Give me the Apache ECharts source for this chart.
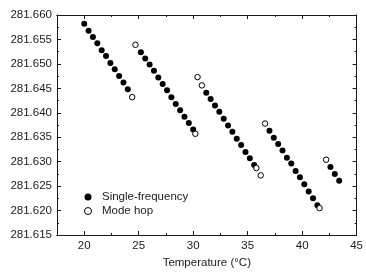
<!DOCTYPE html>
<html>
<head>
<meta charset="utf-8">
<script src="https://cdn.jsdelivr.net/npm/echarts@6/dist/echarts.min.js"></script>
<style>
  html, body { margin: 0; padding: 0; background: #fff; }
  #chart { width: 366px; height: 274px; }
</style>
</head>
<body>
<div id="chart"></div>
<script>
  // single-frequency points (temperature in degC, frequency in THz)
  var sfTemp = [
    20, 20.4, 20.8, 21.2, 21.6, 22, 22.4, 22.8, 23.2, 23.6, 24,
    25.2, 25.6, 26, 26.4, 26.8, 27.2, 27.6, 28, 28.4, 28.8, 29.2, 29.6, 30,
    31.2, 31.6, 32, 32.4, 32.8, 33.2, 33.6, 34, 34.4, 34.8, 35.2, 35.6,
    37, 37.4, 37.8, 38.2, 38.6, 39, 39.4, 39.8, 40.2, 40.6, 41, 41.4,
    42.6, 43, 43.4
  ];
  var sfFreq = [
    281.6582, 281.6568, 281.6555, 281.6542, 281.6528, 281.6516, 281.6502, 281.6489, 281.6475, 281.6462, 281.6448,
    281.6524, 281.6511, 281.6499, 281.6486, 281.6472, 281.6459, 281.6446, 281.6432, 281.6418, 281.6405, 281.6392, 281.6379, 281.6366,
    281.6441, 281.6428, 281.6415, 281.6402, 281.6388, 281.6374, 281.6361, 281.6347, 281.6334, 281.6320, 281.6307, 281.6293,
    281.6363, 281.6349, 281.6336, 281.6323, 281.6308, 281.6296, 281.6281, 281.6268, 281.6254, 281.6239, 281.6225, 281.6211,
    281.6289, 281.6275, 281.6261
  ];

  // mode hop points
  var mhTemp = [24.4, 24.7, 30.2, 30.4, 30.8, 35.8, 36.2, 36.6, 41.6, 42.2];
  var mhFreq = [281.6432, 281.6539, 281.6357, 281.6473, 281.6456, 281.6287, 281.6272, 281.6378, 281.6205, 281.6304];

  var xMajor = [20, 25, 30, 35, 40, 45];
  var xMinor = [22.5, 27.5, 32.5, 37.5, 42.5];

  var FONT = 'Liberation Sans, Arial, sans-serif';
  var INK = '#1a1a1a';

  function pairs(xs, ys) {
    return xs.map(function (x, i) { return [x, ys[i]]; });
  }

  function xAxis(pos, ticks, len, labels) {
    return {
      type: 'value', position: pos, min: 17.5, max: 45,
      axisLine: { show: true, onZero: false, lineStyle: { color: INK, width: 1 } },
      axisTick: { show: true, inside: true, length: len, customValues: ticks, lineStyle: { color: INK } },
      axisLabel: labels
        ? { show: true, customValues: xMajor, margin: 5, fontSize: 11.5, fontFamily: FONT, color: INK }
        : { show: false },
      splitLine: { show: false }
    };
  }

  function yAxis(pos, labels) {
    return {
      type: 'value', position: pos, min: 281.615, max: 281.66, interval: 0.005,
      axisLine: { show: true, onZero: false, lineStyle: { color: INK, width: 1 } },
      axisTick: { show: true, inside: true, length: 4, lineStyle: { color: INK } },
      minorTick: { show: true, splitNumber: 2, length: 2, lineStyle: { color: INK } },
      axisLabel: labels
        ? { show: true, margin: 5, fontSize: 11.5, fontFamily: FONT, color: INK,
            formatter: function (v) { return v.toFixed(3); } }
        : { show: false },
      splitLine: { show: false }
    };
  }

  var chart = echarts.init(document.getElementById('chart'), null, { renderer: 'canvas' });

  var bottom = xAxis('bottom', xMajor, 4, true);
  bottom.name = 'Temperature (°C)';
  bottom.nameLocation = 'middle';
  bottom.nameGap = 22;
  bottom.nameTextStyle = { fontSize: 11.5, fontFamily: FONT, color: INK };

  chart.setOption({
    animation: false,
    backgroundColor: '#fff',
    grid: { left: 57, right: 7, top: 15, bottom: 37, containLabel: false },
    xAxis: [
      bottom,
      xAxis('bottom', xMinor, 2, false),
      xAxis('top', xMajor, 4, false),
      xAxis('top', xMinor, 2, false)
    ],
    yAxis: [yAxis('left', true), yAxis('right', false)],
    legend: {
      orient: 'vertical', left: 79, top: 186,
      itemWidth: 18, itemHeight: 7, itemGap: 2,
      textStyle: { fontSize: 11.5, fontFamily: FONT, color: INK, lineHeight: 12 },
      data: [
        { name: 'Single-frequency', itemStyle: { color: '#000', opacity: 1 } },
        { name: 'Mode hop', itemStyle: { color: '#fff', borderColor: '#000', borderWidth: 1, opacity: 1 } }
      ]
    },
    series: [
      {
        name: 'Single-frequency', type: 'scatter', symbol: 'circle', symbolSize: 6,
        itemStyle: { color: '#000', opacity: 1 },
        data: pairs(sfTemp, sfFreq)
      },
      {
        name: 'Mode hop', type: 'scatter', symbol: 'circle', symbolSize: 5.5,
        itemStyle: { color: '#fff', borderColor: '#000', borderWidth: 1, opacity: 1 },
        data: pairs(mhTemp, mhFreq)
      }
    ]
  });
</script>
</body>
</html>
